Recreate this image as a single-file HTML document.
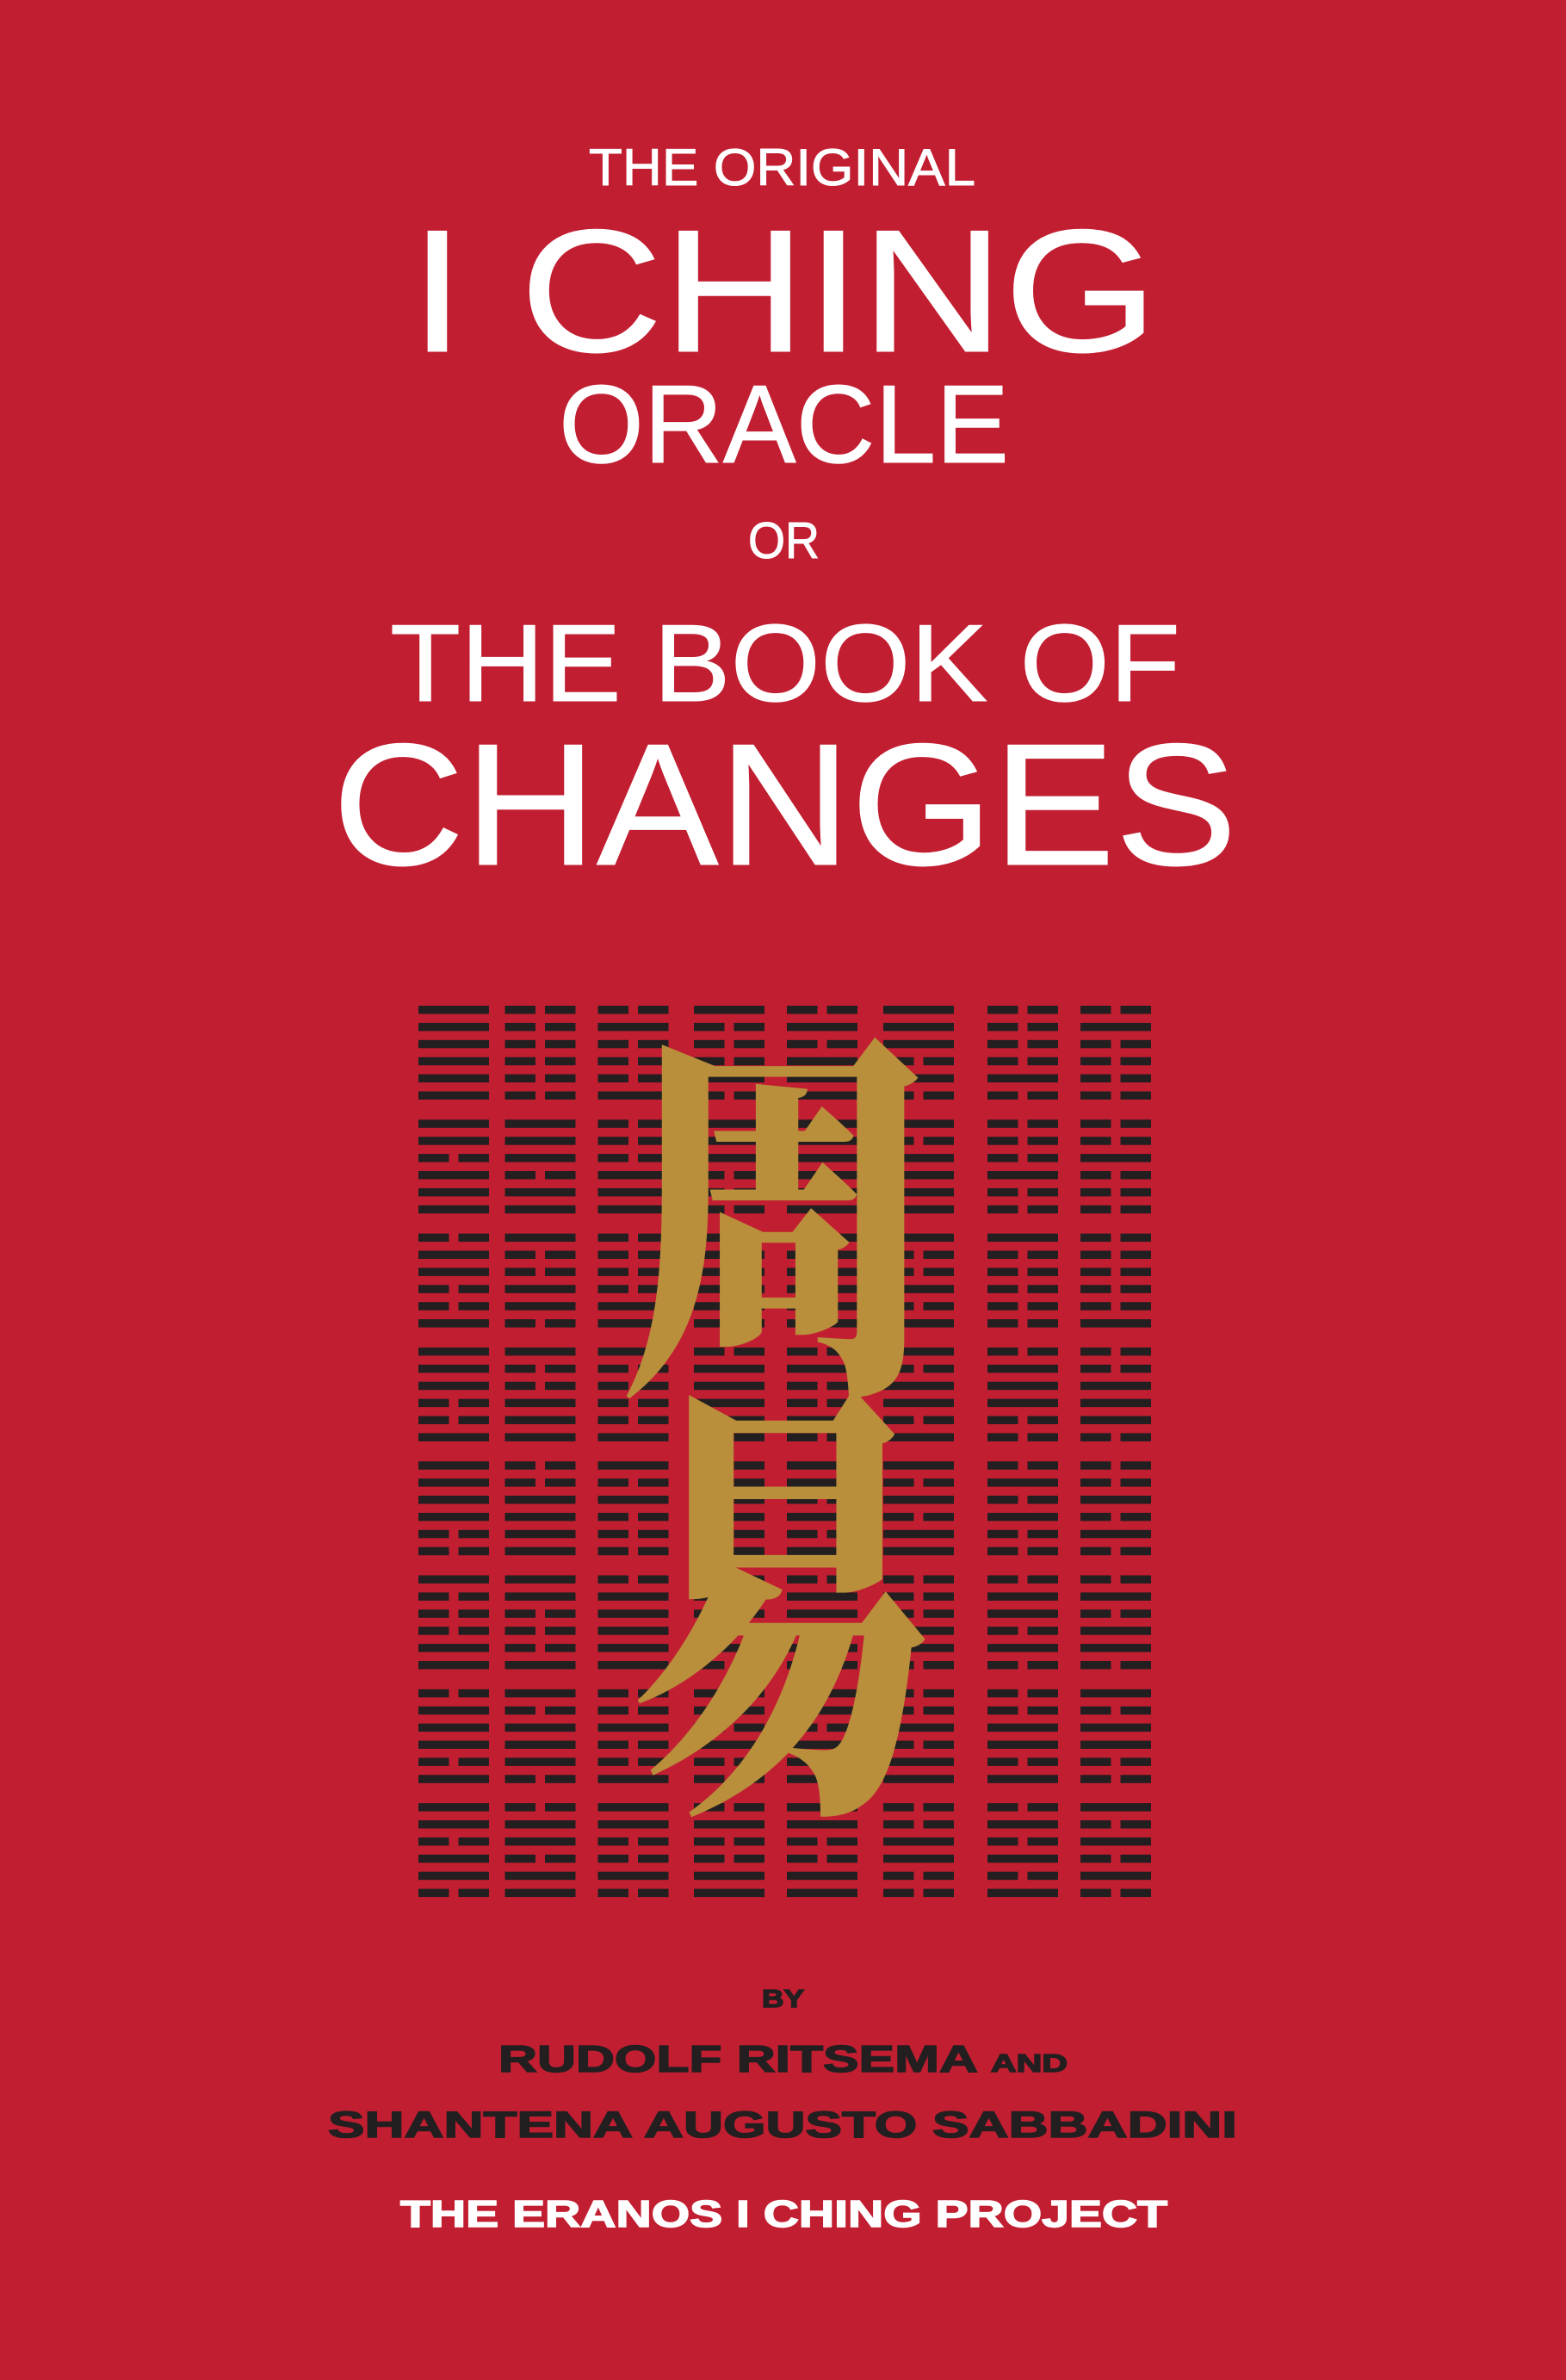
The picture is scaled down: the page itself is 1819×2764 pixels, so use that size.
<!DOCTYPE html>
<html><head><meta charset="utf-8">
<style>
html,body{margin:0;padding:0}
body{width:1819px;height:2764px;background:#c21e31;position:relative;overflow:hidden}
.t{position:absolute;white-space:nowrap;font-family:"Liberation Sans",sans-serif;line-height:1;transform-origin:0 0}
.w{color:#fff;-webkit-text-stroke:1px #fff}
.d{color:#231f20;font-weight:bold;-webkit-text-stroke:1.5px #231f20}
.cj{position:absolute;font-family:"Noto Serif CJK SC","Noto Sans CJK SC",serif;font-weight:900;color:#b98f3b;line-height:1;transform-origin:0 0;white-space:nowrap}
</style></head><body>
<svg id="hx" width="1819" height="2764" style="position:absolute;left:0;top:0"></svg>

<div class="t w" data-x="684" data-y="171" data-w="449" data-c="44">THE ORIGINAL</div>
<div class="t w" data-x="476" data-y="261" data-w="869" data-c="148">I CHING</div>
<div class="t w" data-x="649" data-y="444" data-w="523" data-c="94">ORACLE</div>
<div class="t w" data-x="869" data-y="606" data-w="83" data-c="43">OR</div>
<div class="t w" data-x="453" data-y="723" data-w="918" data-c="93">THE BOOK OF</div>
<div class="t w" data-x="386" data-y="858" data-w="1051" data-c="147">CHANGES</div>

<div class="t d" data-x="885" data-y="2311" data-w="49" data-c="21">BY</div>
<div class="t d" data-x="579" data-y="2375" data-w="661" data-c="32">RUDOLF RITSEMA <span style="font-size:66%">AND</span></div>
<div class="t d" data-x="381" data-y="2453" data-w="1056" data-c="31">SHANTENA AUGUSTO SABBADINI</div>
<div class="t w" style="font-weight:bold;-webkit-text-stroke:1.5px #fff" data-x="465" data-y="2555" data-w="891" data-c="32">THE ERANOS I CHING PROJECT</div>

<div class="cj" id="c1">周</div>
<div class="cj" id="c2">易</div>

<script>
(function(){
  document.querySelectorAll('.t').forEach(function(e){
    var c=+e.dataset.c, fs=c/0.729;
    e.style.fontSize=fs+'px';
    e.style.left=e.dataset.x+'px';
    e.style.top=(+e.dataset.y - 0.1175*fs)+'px';
    var w=e.getBoundingClientRect().width;
    e.style.transform='scaleX('+(+e.dataset.w/w)+')';
  });
  var T={H:'111',E:'000',T:'001',W:'010',M:'100',I:'110',F:'101',L:'011'};
  var kw='HH EE WT MW WH HW EW WE IH HL EH HE HF FH EM TE LT MI EL IE FT MF ME ET HT MH MT LI WW FF LM TI HM TH FE EF IF FL WM TW ML IT LH HI LE EI LW WI LF FI TT MM IM TL TF FM II LL IW WL IL TM WF FW'.split(' ');
  var xs=[486,586.5,694.5,806,914,1026,1147,1255];
  var s='';
  for(var n=0;n<64;n++){
    var r=Math.floor(n/8), c=n%8;
    var bits=T[kw[n][0]]+T[kw[n][1]];
    var x=xs[c];
    for(var k=0;k<6;k++){
      var y=1168+r*132.3+k*19.9;
      if(bits[k]==='1') s+='<rect x="'+x+'" y="'+y+'" width="82" height="9.5" fill="#231f20"/>';
      else s+='<rect x="'+x+'" y="'+y+'" width="35.5" height="9.5" fill="#231f20"/><rect x="'+(x+46.5)+'" y="'+y+'" width="35.5" height="9.5" fill="#231f20"/>';
    }
  }
  document.getElementById('hx').innerHTML=s;
  function fit(id,x,y,w,h){
    var e=document.getElementById(id), fs=w/0.9;
    e.style.fontSize=fs+'px';
    var sy=h/(0.9*fs);
    e.style.left=(x-0.05*fs)+'px';
    e.style.top=(y-0.06*fs*sy)+'px';
    e.style.transform='scaleY('+sy+')';
  }
  fit('c1',735,1189,342,406);
  fit('c2',747,1605,330,470);
})();
</script>
</body></html>
